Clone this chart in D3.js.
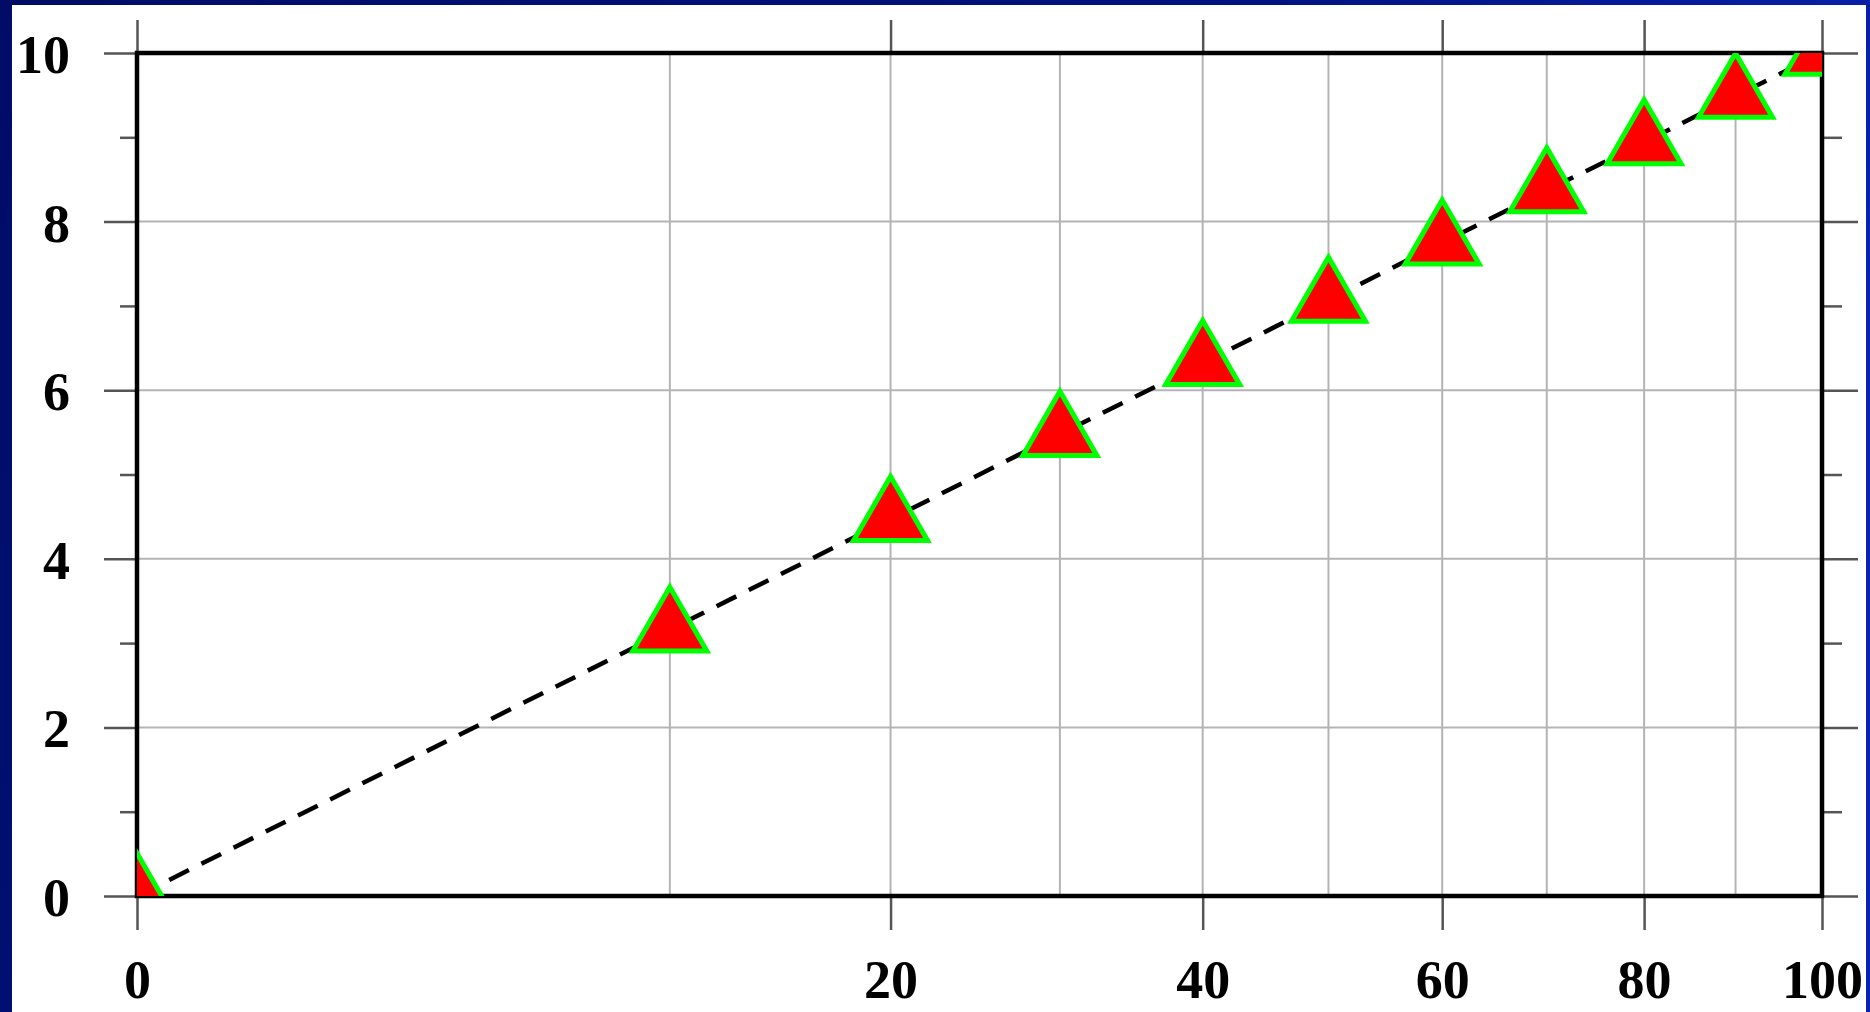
<!DOCTYPE html>
<html>
<head>
<meta charset="utf-8">
<script src="https://cdn.jsdelivr.net/npm/d3@7"></script>
<style>
  html, body { margin: 0; padding: 0; background: #000e6e; }
  svg { display: block; }
</style>
</head>
<body>
<svg id="chart" width="1870" height="1012"></svg>
<script>
// data
const xValues = [0, 10, 20, 30, 40, 50, 60, 70, 80, 90, 100];
const yValues = [0, 3.16, 4.47, 5.48, 6.32, 7.07, 7.75, 8.37, 8.94, 9.49, 10];
const xTickLabels = [0, 20, 40, 60, 80, 100];
const xGrid = [10, 20, 30, 40, 50, 60, 70, 80, 90, 100];
const yTickLabels = [0, 2, 4, 6, 8, 10];
const yMinor = [1, 3, 5, 7, 9];
const yGrid = [2, 4, 6, 8];

const W = 1870, H = 1012;
const plotL = 137, plotR = 1822, plotT = 53, plotB = 896;

const svg = d3.select("#chart");

// background: navy with a soft diagonal sheen
const defs = svg.append("defs");
const grad = defs.append("linearGradient")
    .attr("id", "bg").attr("x1", "0").attr("y1", "0").attr("x2", "1").attr("y2", "0.3");
grad.append("stop").attr("offset", "0%").attr("stop-color", "#000c66");
grad.append("stop").attr("offset", "60%").attr("stop-color", "#00127e");
grad.append("stop").attr("offset", "100%").attr("stop-color", "#0a22b0");
svg.append("rect").attr("width", W).attr("height", H).attr("fill", "url(#bg)");

// white page
svg.append("rect")
    .attr("x", 12).attr("y", 5)
    .attr("width", 1854).attr("height", H - 5)
    .attr("fill", "#fff");

defs.append("clipPath").attr("id", "plot")
  .append("rect")
    .attr("x", plotL).attr("y", plotT)
    .attr("width", plotR - plotL).attr("height", plotB - plotT);

const x = d3.scalePow().exponent(0.5).domain([0, 100]).range([plotL, plotR]);
const y = d3.scaleLinear().domain([0, 10]).range([plotB, plotT]);

// grid
const grid = svg.append("g").attr("stroke", "#b4b4b4").attr("stroke-width", 2);
grid.selectAll("line.gx").data(xGrid).join("line")
    .attr("class", "gx")
    .attr("x1", d => x(d)).attr("x2", d => x(d))
    .attr("y1", plotT).attr("y2", plotB);
grid.selectAll("line.gy").data(yGrid).join("line")
    .attr("class", "gy")
    .attr("x1", plotL).attr("x2", plotR)
    .attr("y1", d => y(d)).attr("y2", d => y(d));

const font = "'Liberation Serif', 'Times New Roman', serif";

function styleAxis(g) {
  g.select(".domain").remove();
  g.selectAll(".tick line").attr("stroke", "#555").attr("stroke-width", 2.5);
  g.selectAll(".tick text")
      .attr("fill", "#000")
      .attr("font-family", font)
      .attr("font-weight", "bold")
      .attr("font-size", 54);
}

svg.append("g")
    .attr("transform", `translate(0,${plotB})`)
    .call(d3.axisBottom(x).tickValues(xTickLabels).tickSize(34).tickPadding(30).tickFormat(d3.format("d")))
    .call(styleAxis);

svg.append("g")
    .attr("transform", `translate(0,${plotT})`)
    .call(d3.axisTop(x).tickValues(xTickLabels).tickSize(33).tickFormat(""))
    .call(styleAxis);

svg.append("g")
    .attr("transform", `translate(${plotL},0)`)
    .call(d3.axisLeft(y).tickValues(yTickLabels).tickSize(33).tickPadding(34).tickFormat(d3.format("d")))
    .call(styleAxis)
    .selectAll(".tick text").attr("dy", "0.36em");

svg.append("g")
    .attr("transform", `translate(${plotL},0)`)
    .call(d3.axisLeft(y).tickValues(yMinor).tickSize(17).tickFormat(""))
    .call(styleAxis);

svg.append("g")
    .attr("transform", `translate(${plotR},0)`)
    .call(d3.axisRight(y).tickValues(yTickLabels).tickSize(36).tickFormat(""))
    .call(styleAxis);

svg.append("g")
    .attr("transform", `translate(${plotR},0)`)
    .call(d3.axisRight(y).tickValues(yMinor).tickSize(20).tickFormat(""))
    .call(styleAxis);

// frame
svg.append("rect")
    .attr("x", plotL).attr("y", plotT)
    .attr("width", plotR - plotL).attr("height", plotB - plotT)
    .attr("fill", "none").attr("stroke", "#000").attr("stroke-width", 4.5);

const pts = xValues.map((v, i) => [v, yValues[i]]);

// dashed line
svg.append("path")
    .datum(pts)
    .attr("clip-path", "url(#plot)")
    .attr("fill", "none")
    .attr("stroke", "#000")
    .attr("stroke-width", 4.5)
    .attr("stroke-dasharray", "22,14")
    .attr("d", d3.line().x(d => x(d[0])).y(d => y(d[1])));

// triangles
const tri = d3.symbol().type(d3.symbolTriangle).size(2370);
svg.append("g")
    .attr("clip-path", "url(#plot)")
  .selectAll("path").data(pts).join("path")
    .attr("transform", d => `translate(${x(d[0])},${y(d[1])})`)
    .attr("d", tri)
    .attr("fill", "#ff0000")
    .attr("stroke", "#00ff00")
    .attr("stroke-width", 5)
    .attr("stroke-linejoin", "miter");
</script>
</body>
</html>
